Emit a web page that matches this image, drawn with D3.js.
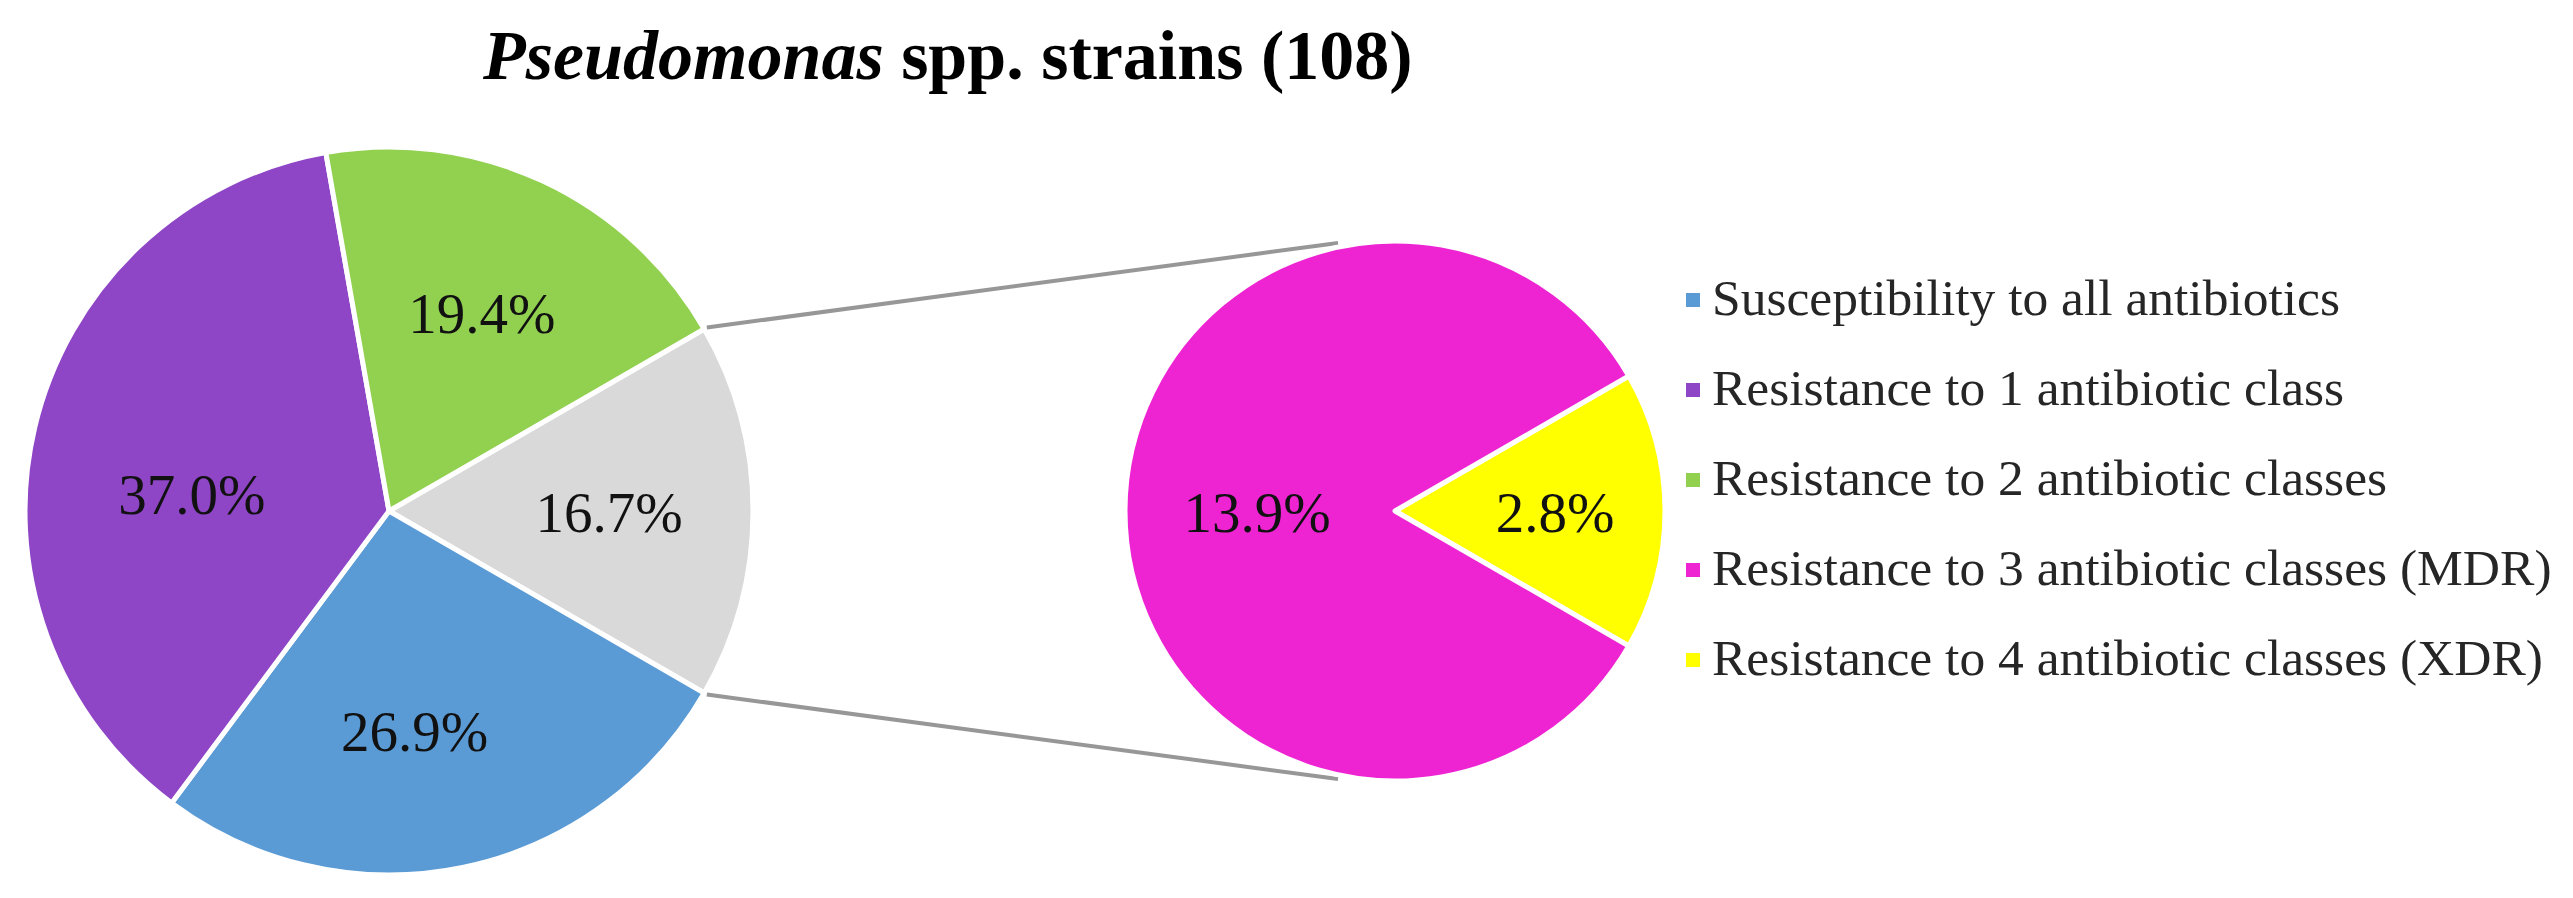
<!DOCTYPE html>
<html>
<head>
<meta charset="utf-8">
<script src="https://cdn.jsdelivr.net/npm/d3@7/dist/d3.min.js"></script>
<style>
  html, body { margin: 0; padding: 0; background: #fff; }
  svg { display: block; }
  text { font-family: "Liberation Serif", "DejaVu Serif", serif; }
</style>
</head>
<body>
<svg id="chart" width="2573" height="898"></svg>
<script>
// ---------- data ----------
const titleItalic = "Pseudomonas";
const titleRest = " spp. strains (108)";
const categories = [
  "Susceptibility to all antibiotics",
  "Resistance to 1 antibiotic class",
  "Resistance to 2 antibiotic classes",
  "Resistance to 3 antibiotic classes (MDR)",
  "Resistance to 4 antibiotic classes (XDR)"
];
const strainCounts = [29, 40, 21, 15, 3];          // of 108 strains
const secondaryCategories = [categories[3], categories[4]]; // split into second pie
const colors = ["#5B9BD5", "#8E45C6", "#92D050", "#EE24D2", "#FFFF00"];
const otherColor = "#D9D9D9";

// ---------- layout ----------
const main = { cx: 389, cy: 511, r: 364, labelR: 220 };
const sec  = { cx: 1395, cy: 511, r: 270 };
const labelNudgeDeg = { [categories[1]]: -8, [categories[0]]: 5 };
const labelRadius = { [categories[1]]: 198 };
const secLabelR = { [categories[3]]: 138, [categories[4]]: 160 };
const connectorDeg = 12;

const total = d3.sum(strainCounts);
const fmt = v => d3.format(".1f")(v / total * 100) + "%";

const svg = d3.select("#chart");

// title
const title = svg.append("text")
  .attr("x", 483).attr("y", 79)
  .attr("font-size", 70).attr("font-weight", "bold").attr("fill", "#000");
title.append("tspan").attr("font-style", "italic").text(titleItalic);
title.append("tspan").text(titleRest);

// main pie data: "other" (secondary) aggregated, placed centred at 3 o'clock
const primary = categories.map((c, i) => ({ cat: c, value: strainCounts[i], color: colors[i] }))
  .filter(d => !secondaryCategories.includes(d.cat));
const otherVal = d3.sum(categories.map((c, i) => secondaryCategories.includes(c) ? strainCounts[i] : 0));
const mainData = [{ cat: "other", value: otherVal, color: otherColor }, ...primary];
const otherAngle = otherVal / total * 2 * Math.PI;
const mainStart = Math.PI / 2 - otherAngle / 2;

const mainPie = d3.pie().sort(null).value(d => d.value)
  .startAngle(mainStart).endAngle(mainStart + 2 * Math.PI);
const mainArcs = mainPie(mainData);
const arcMain = d3.arc().innerRadius(0).outerRadius(main.r);

const gMain = svg.append("g").attr("transform", `translate(${main.cx},${main.cy})`);
gMain.selectAll("path").data(mainArcs).join("path")
  .attr("d", arcMain)
  .attr("fill", d => d.data.color)
  .attr("stroke", "#fff").attr("stroke-width", 5).attr("stroke-linejoin", "round");

const labelArc = r => d3.arc().innerRadius(r).outerRadius(r);
gMain.selectAll("text.lbl").data(mainArcs).join("text")
  .attr("class", "lbl")
  .attr("transform", d => {
    const n = (labelNudgeDeg[d.data.cat] || 0) * Math.PI / 180;
    const dd = { startAngle: d.startAngle + n, endAngle: d.endAngle + n };
    const [x, y] = labelArc(labelRadius[d.data.cat] || main.labelR).centroid(dd);
    return `translate(${x},${y})`;
  })
  .attr("text-anchor", "middle").attr("dy", "0.37em")
  .attr("font-size", 57).attr("fill", "#111")
  .text(d => fmt(d.data.value));

// secondary pie
const secData = categories.map((c, i) => ({ cat: c, value: strainCounts[i], color: colors[i] }))
  .filter(d => secondaryCategories.includes(d.cat));
const smallVal = secData[1].value;
const secSmallAngle = smallVal / otherVal * 2 * Math.PI;
const secStart = Math.PI / 2 - secSmallAngle / 2;
const secPie = d3.pie().sort(null).value(d => d.value)
  .startAngle(secStart).endAngle(secStart + 2 * Math.PI);
const secArcs = secPie([secData[1], secData[0]]);
const arcSec = d3.arc().innerRadius(0).outerRadius(sec.r);

// connector lines
const edgeA = mainStart, edgeB = mainStart + otherAngle;
const pt = (cx, cy, r, a) => [cx + r * Math.sin(a), cy - r * Math.cos(a)];
const cA = connectorDeg * Math.PI / 180;
const lines = [
  [pt(main.cx, main.cy, main.r + 3, edgeA), pt(sec.cx, sec.cy, sec.r + 4, -cA)],
  [pt(main.cx, main.cy, main.r + 3, edgeB), pt(sec.cx, sec.cy, sec.r + 4, Math.PI + cA)]
];
svg.selectAll("line.conn").data(lines).join("line")
  .attr("class", "conn")
  .attr("x1", d => d[0][0]).attr("y1", d => d[0][1])
  .attr("x2", d => d[1][0]).attr("y2", d => d[1][1])
  .attr("stroke", "#979797").attr("stroke-width", 4);

const gSec = svg.append("g").attr("transform", `translate(${sec.cx},${sec.cy})`);
gSec.selectAll("path").data(secArcs).join("path")
  .attr("d", arcSec)
  .attr("fill", d => d.data.color)
  .attr("stroke", "#fff").attr("stroke-width", 5).attr("stroke-linejoin", "round");
gSec.selectAll("text.lbl").data(secArcs).join("text")
  .attr("class", "lbl")
  .attr("transform", d => {
    const [x, y] = labelArc(secLabelR[d.data.cat]).centroid(d);
    return `translate(${x},${y})`;
  })
  .attr("text-anchor", "middle").attr("dy", "0.37em")
  .attr("font-size", 57).attr("fill", "#111")
  .text(d => fmt(d.data.value));

// legend
const legY = d3.scalePoint().domain(categories).range([300, 660]);
const gLeg = svg.append("g");
const items = gLeg.selectAll("g").data(categories).join("g")
  .attr("transform", c => `translate(1686,${legY(c)})`);
items.append("rect").attr("x", 0).attr("y", -7).attr("width", 14).attr("height", 14)
  .attr("fill", (c, i) => colors[i]);
items.append("text").attr("x", 26).attr("y", 0).attr("dy", "0.3em")
  .attr("font-size", 51.5).attr("fill", "#262626")
  .text(c => c);
</script>
</body>
</html>
